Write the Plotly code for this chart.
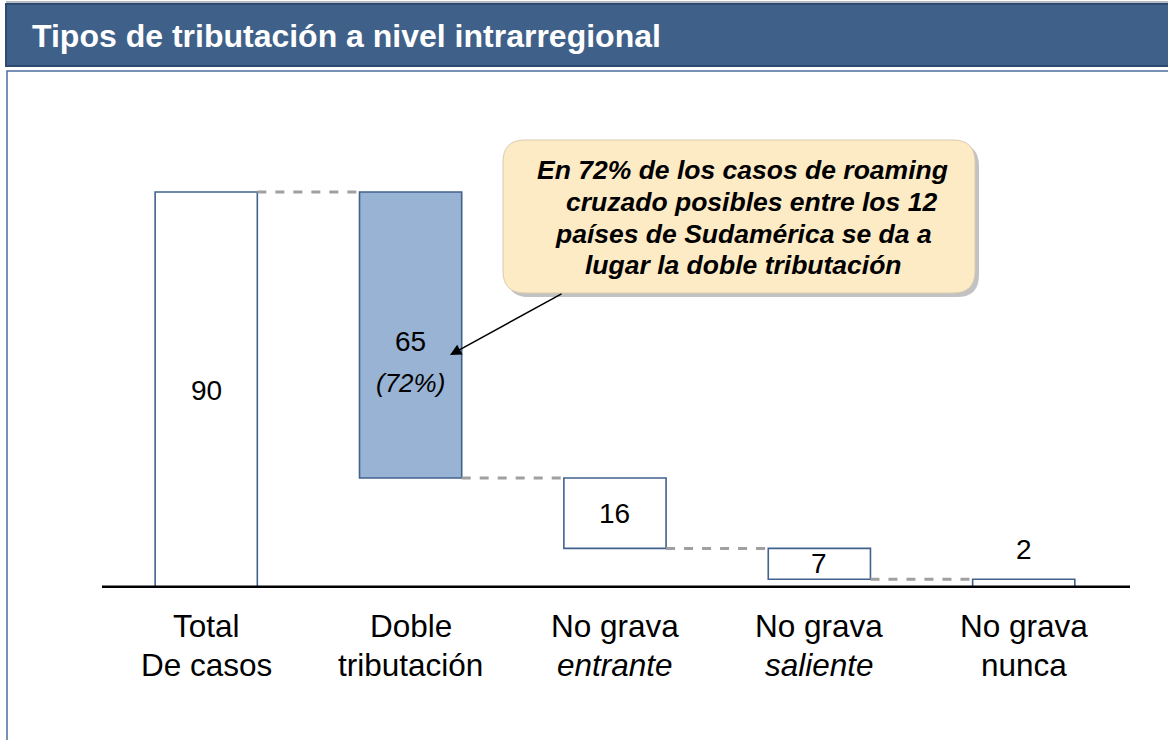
import plotly.graph_objects as go

# --- data -------------------------------------------------------------
cat_line1 = ["Total", "Doble", "No grava", "No grava", "No grava"]
cat_line2 = ["De casos", "tributación", "<i>entrante</i>", "<i>saliente</i>", "nunca"]
values = [90, 65, 16, 7, 2]
share_label = "(72%)"
highlight_idx = 1

title_text = "Tipos de tributación a nivel intrarregional"
callout_lines = [
    "En 72% de los casos de roaming",
    "cruzado posibles entre los 12",
    "países de Sudamérica se da a",
    "lugar la doble tributación",
]

# waterfall bases: the first bar is the total, the rest step down from it
bases = [0]
running = values[0]
for v in values[1:]:
    running -= v
    bases.append(running)
tops = [b + v for b, v in zip(bases, values)]

FONT = "Liberation Sans, Arial, sans-serif"
W, H = 1168, 740
L, R, T, B = 102, 38, 148, 152
PW, PH = W - L - R, H - T - B


def px(xp):
    return (xp - L) / PW


def py(yp):
    return (H - B - yp) / PH


idx = list(range(len(values)))
fill = ["white"] * len(values)
fill[highlight_idx] = "#98B3D3"

fig = go.Figure(go.Bar(
    x=idx, y=values, base=bases, width=0.5,
    marker=dict(color=fill, line=dict(color="#41628E", width=1.6)),
    hoverinfo="skip", showlegend=False,
))

shapes = []
annotations = []

# page frame and header band
shapes.append(dict(type="rect", xref="paper", yref="paper", layer="below",
                   x0=px(7), x1=px(1185), y0=py(71), y1=py(760),
                   line=dict(color="#4B6E9E", width=1.5), fillcolor="white"))
shapes.append(dict(type="rect", xref="paper", yref="paper",
                   x0=px(6), x1=px(1185), y0=py(4), y1=py(66),
                   line=dict(color="#2D4B70", width=2), fillcolor="#3F6189"))
shapes.append(dict(type="line", xref="paper", yref="paper",
                   x0=px(6), x1=px(1185), y0=py(2), y1=py(2),
                   line=dict(color="#B8BCC2", width=2)))
annotations.append(dict(xref="paper", yref="paper", x=px(30), y=py(36),
                        xanchor="left", yanchor="middle", showarrow=False,
                        text="<b>" + title_text + "</b>",
                        font=dict(family=FONT, size=32, color="white")))

# dashed connectors between consecutive bars
for i in range(len(values) - 1):
    shapes.append(dict(type="line", xref="x", yref="y",
                       x0=i + 0.25, x1=i + 1 - 0.25, y0=tops[i + 1], y1=tops[i + 1],
                       line=dict(color="#A0A0A0", width=3, dash="dash")))

# baseline
shapes.append(dict(type="line", xref="paper", yref="y", x0=0, x1=1, y0=0, y1=0,
                   line=dict(color="black", width=5)))


def rounded_rect(x0, y0, x1, y1, r):
    # pixel corners -> paper path with rounded corners
    pts = [
        f"M {px(x0 + r)} {py(y0)}",
        f"L {px(x1 - r)} {py(y0)}",
        f"Q {px(x1)} {py(y0)} {px(x1)} {py(y0 + r)}",
        f"L {px(x1)} {py(y1 - r)}",
        f"Q {px(x1)} {py(y1)} {px(x1 - r)} {py(y1)}",
        f"L {px(x0 + r)} {py(y1)}",
        f"Q {px(x0)} {py(y1)} {px(x0)} {py(y1 - r)}",
        f"L {px(x0)} {py(y0 + r)}",
        f"Q {px(x0)} {py(y0)} {px(x0 + r)} {py(y0)}",
        "Z",
    ]
    return " ".join(pts)


# callout box with soft shadow
shapes.append(dict(type="path", xref="paper", yref="paper",
                   path=rounded_rect(507, 144, 979, 297, 22),
                   fillcolor="rgba(120,120,120,0.45)", line=dict(width=0)))
shapes.append(dict(type="path", xref="paper", yref="paper",
                   path=rounded_rect(503, 140, 975, 293, 22),
                   fillcolor="#FDEBC6", line=dict(color="#D9CBAE", width=1)))
callout_y = [170, 202, 234, 265]
callout_x = [742, 751, 743, 743]
for line, lx, ly in zip(callout_lines, callout_x, callout_y):
    annotations.append(dict(xref="paper", yref="paper", x=px(lx), y=py(ly),
                            xanchor="center", yanchor="middle", showarrow=False,
                            text="<b><i>" + line + "</i></b>",
                            font=dict(family=FONT, size=26.5, color="black")))

# arrow from the callout to the highlighted bar
annotations.append(dict(xref="paper", yref="paper", x=px(450), y=py(355),
                        ax=113, ay=-62, text="", showarrow=True,
                        arrowhead=2, arrowsize=1.5, arrowwidth=1.5,
                        arrowcolor="black"))

# value labels
for i, (b, v) in enumerate(zip(bases, values)):
    if i == highlight_idx:
        annotations.append(dict(x=i, y=b + v / 2, yshift=-6, text=str(v),
                                showarrow=False,
                                font=dict(family=FONT, size=28, color="black")))
        annotations.append(dict(x=i, y=b + v / 2, yshift=-48,
                                text="<i>" + share_label + "</i>", showarrow=False,
                                font=dict(family=FONT, size=26, color="black")))
    elif v < 5:
        annotations.append(dict(x=i, y=b + v, yanchor="bottom", yshift=12,
                                text=str(v), showarrow=False,
                                font=dict(family=FONT, size=28, color="black")))
    else:
        annotations.append(dict(x=i, y=b + v / 2, text=str(v), showarrow=False,
                                font=dict(family=FONT, size=28, color="black")))

# category labels (two lines each)
for i in idx:
    annotations.append(dict(x=i, xref="x", yref="paper", y=py(626),
                            text=cat_line1[i], showarrow=False, yanchor="middle",
                            font=dict(family=FONT, size=31.5, color="black")))
    annotations.append(dict(x=i, xref="x", yref="paper", y=py(665),
                            text=cat_line2[i], showarrow=False, yanchor="middle",
                            font=dict(family=FONT, size=31.5, color="black")))

fig.update_layout(
    width=W, height=H,
    margin=dict(l=L, r=R, t=T, b=B),
    paper_bgcolor="white", plot_bgcolor="rgba(0,0,0,0)",
    shapes=shapes, annotations=annotations,
    xaxis=dict(range=[-0.51, 4.52], showgrid=False, zeroline=False,
               showticklabels=False, ticks="", fixedrange=True),
    yaxis=dict(range=[0, 100], showgrid=False, zeroline=False,
               showticklabels=False, ticks="", fixedrange=True),
    font=dict(family=FONT),
)

fig.write_html("out.html")
